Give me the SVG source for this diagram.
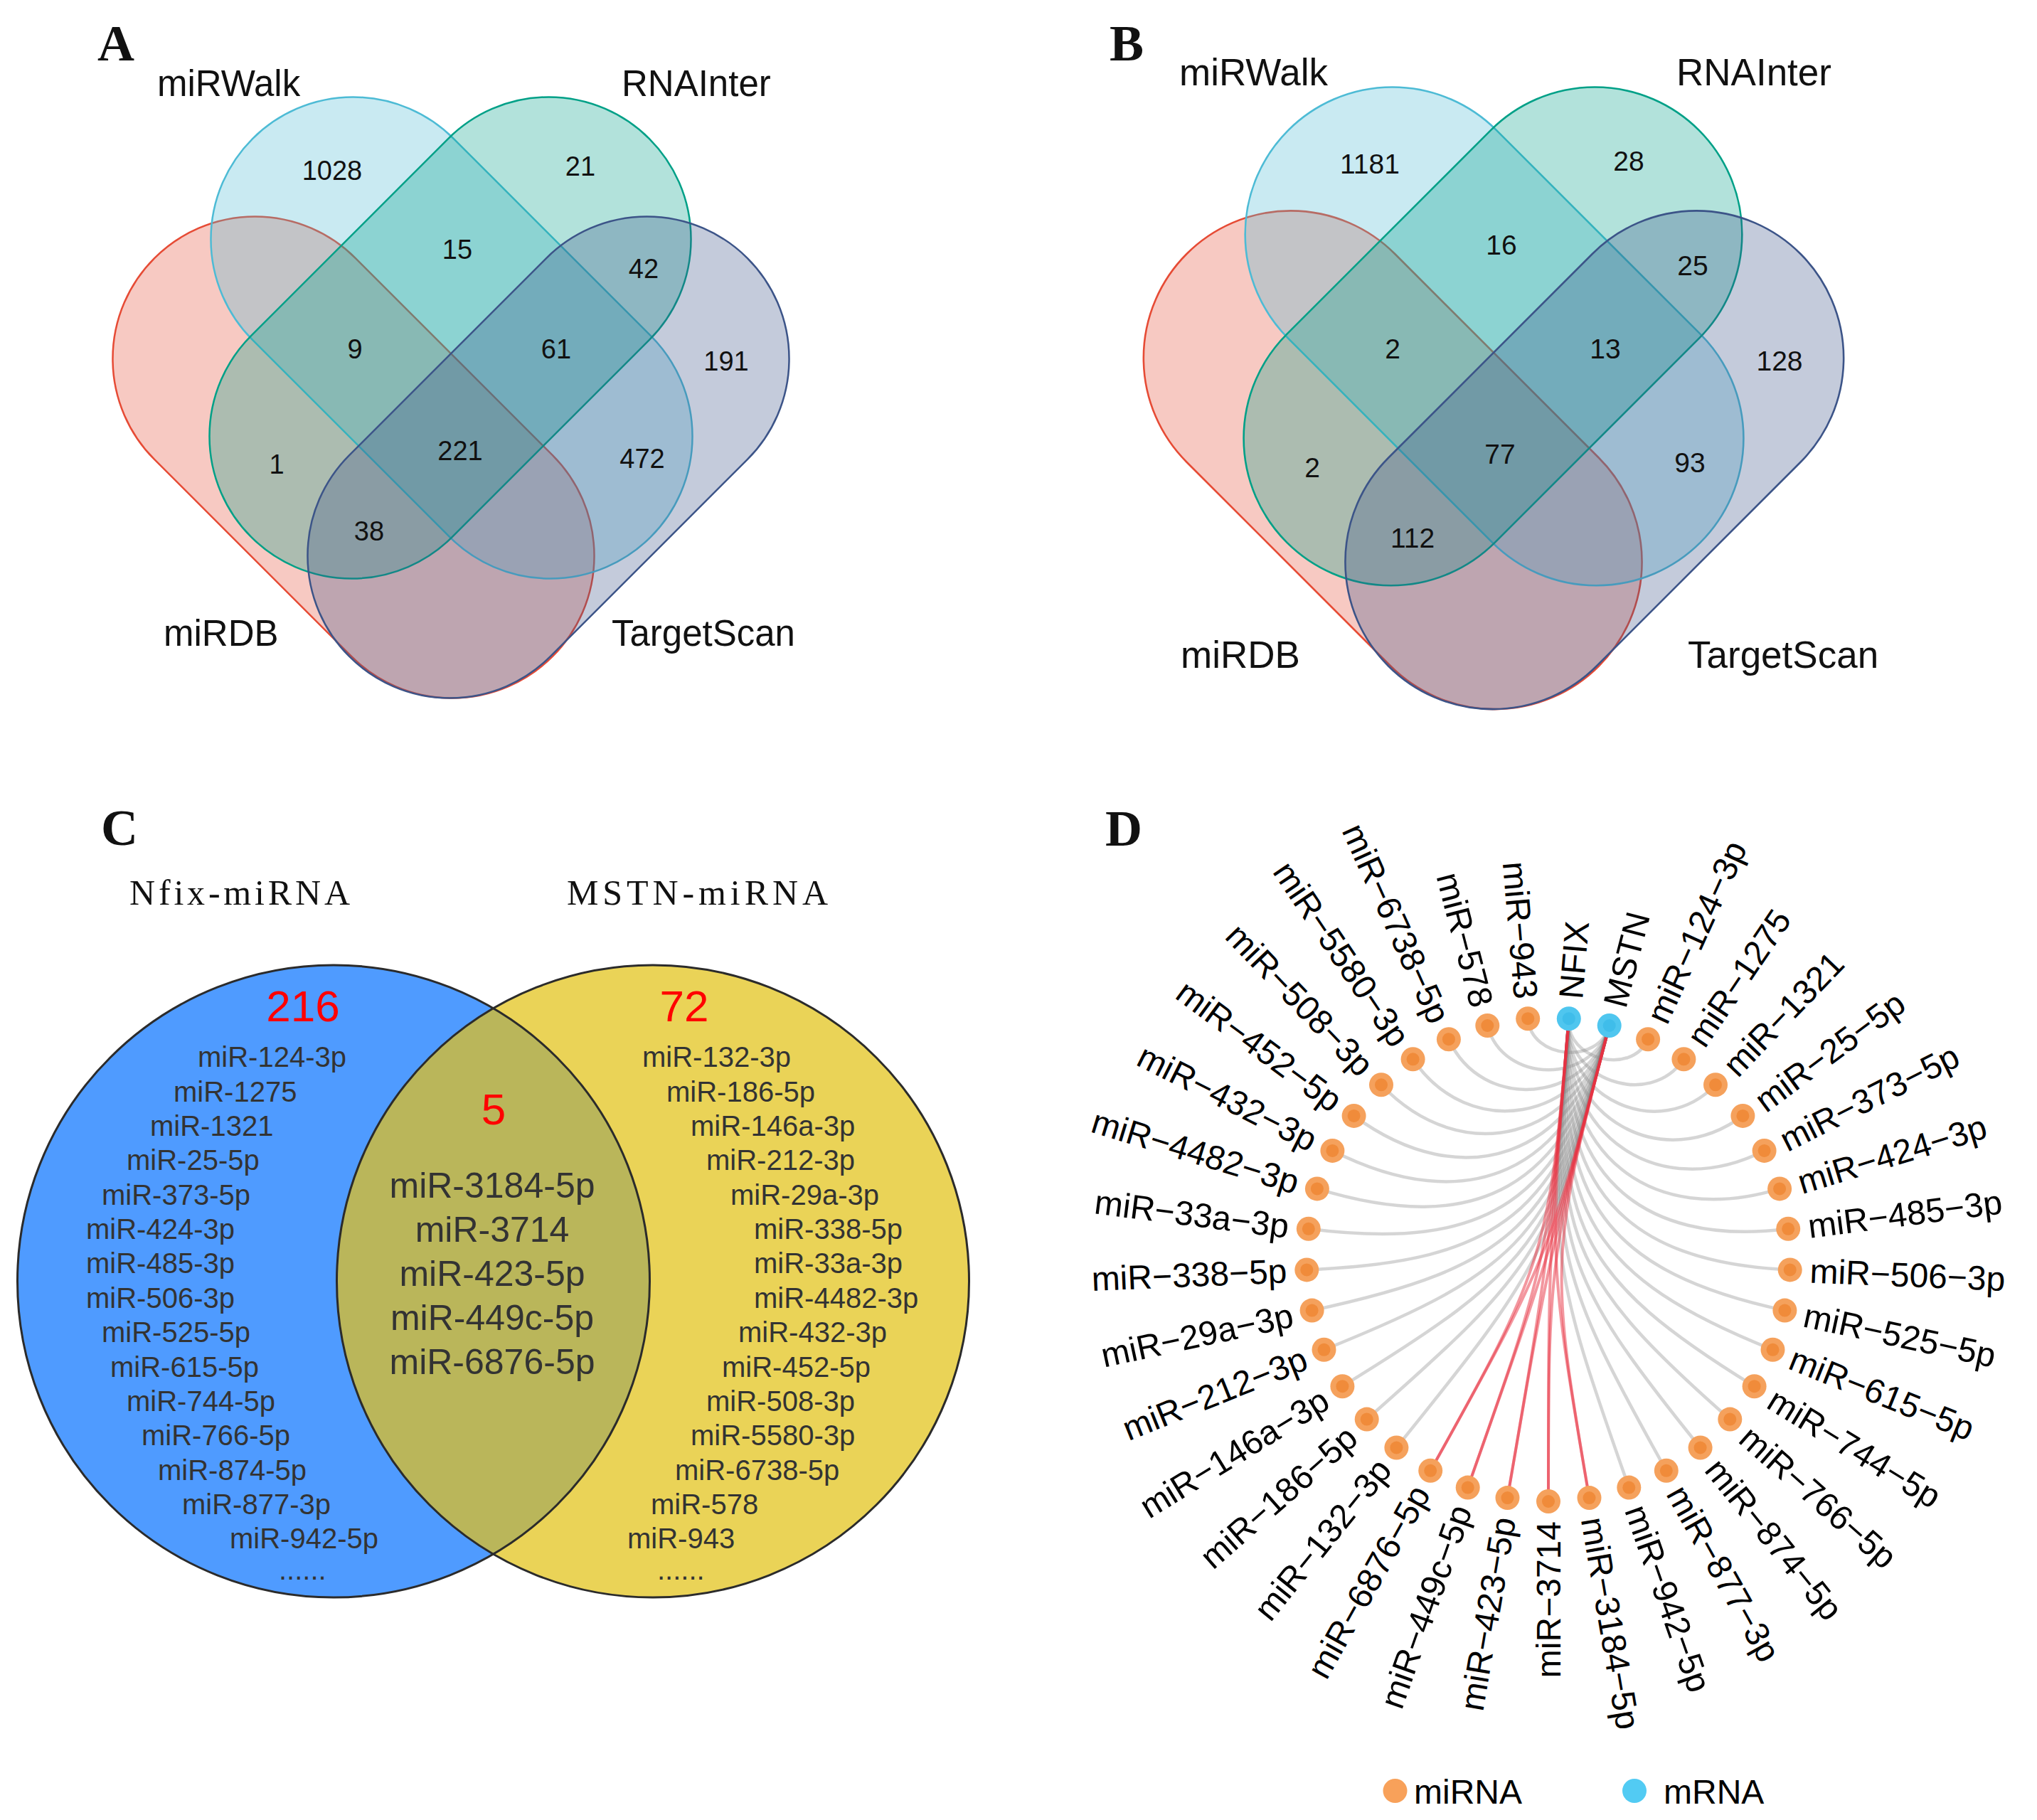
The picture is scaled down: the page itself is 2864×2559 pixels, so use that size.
<svg xmlns="http://www.w3.org/2000/svg" width="2864" height="2559" viewBox="0 0 2864 2559">
<style>
text{font-family:"Liberation Sans",Arial,sans-serif;}
.pl{font-family:"Liberation Serif","Times New Roman",serif;font-weight:bold;font-size:72px;fill:#111;}
.sa{font-size:51px;fill:#111;}
.sb{font-size:53px;fill:#111;}
.na{font-size:38px;text-anchor:middle;fill:#111;}
.nb{font-size:39px;text-anchor:middle;fill:#111;}
.ttl{font-family:"Liberation Serif","Times New Roman",serif;font-size:50px;fill:#111;}
.cl{font-size:40px;fill:#333;}
.cc{font-size:50px;fill:#333;text-anchor:middle;}
.red{font-size:62px;fill:#FF0000;text-anchor:middle;}
.dl{font-size:48px;fill:#000;}
.sR{fill:#E64B35;fill-opacity:0.3;stroke:#E64B35;stroke-width:2.5;}
.sW{fill:#4DBBD5;fill-opacity:0.3;stroke:#4DBBD5;stroke-width:2.5;}
.sI{fill:#00A087;fill-opacity:0.3;stroke:#00A087;stroke-width:2.5;}
.sT{fill:#3C5488;fill-opacity:0.3;stroke:#3C5488;stroke-width:2.5;}
.ge{fill:none;stroke:#888;stroke-opacity:0.35;stroke-width:4.5;}
.re{fill:none;stroke:#E8303F;stroke-opacity:0.5;stroke-width:4;}
.mo{fill:#F5A15C;}
.mc{fill:#F08B3A;}
.bo{fill:#4FC6EF;}
.bc{fill:#3FBDEA;}
</style>
<defs>
<path id="stad" d="M-195.9,-200H195.9A200,200 0 0 1 195.9,200H-195.9A200,200 0 0 1 -195.9,-200Z"/>
</defs>
<rect width="2864" height="2559" fill="#fff"/>

<!-- Panel A -->
<g id="panelA">
<text class="pl" x="137" y="85">A</text>
<g id="A-miRDB"><use href="#stad" class="sR" transform="translate(497,643) rotate(45)"/></g>
<g id="A-miRWalk"><use href="#stad" class="sW" transform="translate(635,475) rotate(45)"/></g>
<g id="A-RNAInter"><use href="#stad" class="sI" transform="translate(633,475) rotate(-45)"/></g>
<g id="A-TargetScan"><use href="#stad" class="sT" transform="translate(771,643) rotate(-45)"/></g>
<text class="sa" x="221" y="135">miRWalk</text>
<text class="sa" x="874" y="135">RNAInter</text>
<text class="sa" x="230" y="908">miRDB</text>
<text class="sa" x="860" y="908">TargetScan</text>
<text class="na" x="467" y="252.5">1028</text>
<text class="na" x="816" y="246.5">21</text>
<text class="na" x="643" y="363.5">15</text>
<text class="na" x="905" y="390.5">42</text>
<text class="na" x="499" y="503.5">9</text>
<text class="na" x="782" y="503.5">61</text>
<text class="na" x="1021" y="520.5">191</text>
<text class="na" x="389" y="665.5">1</text>
<text class="na" x="647" y="646.5">221</text>
<text class="na" x="903" y="657.5">472</text>
<text class="na" x="519" y="759.5">38</text>
</g>

<!-- Panel B -->
<g id="panelB">
<text class="pl" x="1560" y="85">B</text>
<g transform="translate(2100,122) scale(1.035) translate(-634,-136)">
<g id="B-miRDB"><use href="#stad" class="sR" transform="translate(497,643) rotate(45)"/></g>
<g id="B-miRWalk"><use href="#stad" class="sW" transform="translate(635,475) rotate(45)"/></g>
<g id="B-RNAInter"><use href="#stad" class="sI" transform="translate(633,475) rotate(-45)"/></g>
<g id="B-TargetScan"><use href="#stad" class="sT" transform="translate(771,643) rotate(-45)"/></g>
</g>
<text class="sb" x="1658" y="120">miRWalk</text>
<text class="sb" x="2357" y="120">RNAInter</text>
<text class="sb" x="1660" y="939">miRDB</text>
<text class="sb" x="2373" y="939">TargetScan</text>
<text class="nb" x="1926" y="244">1181</text>
<text class="nb" x="2290" y="240">28</text>
<text class="nb" x="2111" y="358">16</text>
<text class="nb" x="2380" y="387">25</text>
<text class="nb" x="1958" y="504">2</text>
<text class="nb" x="2257" y="504">13</text>
<text class="nb" x="2502" y="521">128</text>
<text class="nb" x="1845" y="671">2</text>
<text class="nb" x="2109" y="652">77</text>
<text class="nb" x="2376" y="664">93</text>
<text class="nb" x="1986" y="770">112</text>
</g>

<!-- Panel C -->
<g id="panelC">
<text class="pl" x="142" y="1188">C</text>
<text class="ttl" x="182" y="1272" textLength="310" lengthAdjust="spacing">Nfix-miRNA</text>
<text class="ttl" x="797" y="1272" textLength="367" lengthAdjust="spacing">MSTN-miRNA</text>
<g id="C-Nfix"><circle cx="469" cy="1801.5" r="444.5" fill="#4F9BFF"/></g>
<g id="C-MSTN"><circle cx="918" cy="1801.5" r="444.5" fill="#EAD357"/></g>
<g id="C-overlap"><path d="M693.5,1417.9A444.5,444.5 0 0 1 693.5,2185.1A444.5,444.5 0 0 1 693.5,1417.9Z" fill="#BAB65A"/></g>
<circle cx="469" cy="1801.5" r="444.5" fill="none" stroke="#2B2B2B" stroke-width="3"/>
<circle cx="918" cy="1801.5" r="444.5" fill="none" stroke="#2B2B2B" stroke-width="3"/>
<text class="red" x="426" y="1436">216</text>
<text class="red" x="962" y="1436">72</text>
<text class="red" x="694" y="1581">5</text>
<text class="cc" x="692" y="1684">miR-3184-5p</text>
<text class="cc" x="692" y="1746">miR-3714</text>
<text class="cc" x="692" y="1808">miR-423-5p</text>
<text class="cc" x="692" y="1870">miR-449c-5p</text>
<text class="cc" x="692" y="1932">miR-6876-5p</text>
<text class="cl" x="278" y="1500">miR-124-3p</text>
<text class="cl" x="244" y="1549">miR-1275</text>
<text class="cl" x="211" y="1597">miR-1321</text>
<text class="cl" x="178" y="1645">miR-25-5p</text>
<text class="cl" x="143" y="1694">miR-373-5p</text>
<text class="cl" x="121" y="1742">miR-424-3p</text>
<text class="cl" x="121" y="1790">miR-485-3p</text>
<text class="cl" x="121" y="1839">miR-506-3p</text>
<text class="cl" x="143" y="1887">miR-525-5p</text>
<text class="cl" x="155" y="1936">miR-615-5p</text>
<text class="cl" x="178" y="1984">miR-744-5p</text>
<text class="cl" x="199" y="2032">miR-766-5p</text>
<text class="cl" x="222" y="2081">miR-874-5p</text>
<text class="cl" x="256" y="2129">miR-877-3p</text>
<text class="cl" x="323" y="2177">miR-942-5p</text>
<text class="cl" x="392" y="2221">......</text>
<text class="cl" x="903" y="1500">miR-132-3p</text>
<text class="cl" x="937" y="1549">miR-186-5p</text>
<text class="cl" x="971" y="1597">miR-146a-3p</text>
<text class="cl" x="993" y="1645">miR-212-3p</text>
<text class="cl" x="1027" y="1694">miR-29a-3p</text>
<text class="cl" x="1060" y="1742">miR-338-5p</text>
<text class="cl" x="1060" y="1790">miR-33a-3p</text>
<text class="cl" x="1060" y="1839">miR-4482-3p</text>
<text class="cl" x="1038" y="1887">miR-432-3p</text>
<text class="cl" x="1015" y="1936">miR-452-5p</text>
<text class="cl" x="993" y="1984">miR-508-3p</text>
<text class="cl" x="971" y="2032">miR-5580-3p</text>
<text class="cl" x="949" y="2081">miR-6738-5p</text>
<text class="cl" x="915" y="2129">miR-578</text>
<text class="cl" x="882" y="2177">miR-943</text>
<text class="cl" x="924" y="2221">......</text>
</g>

<!-- Panel D -->
<g id="panelD">
<text class="pl" x="1554" y="1189">D</text>
<g id="edges">
<path class="ge" d="M2262.7,1442C2179,1763.7 2172.2,1776.9 1963.4,2035.5"/>
<path class="ge" d="M2262.7,1442C2180.8,1756.6 2165.8,1780.8 1921.7,1995.6"/>
<path class="ge" d="M2262.7,1442C2183.2,1747.3 2156.1,1783.8 1887.4,1949.2"/>
<path class="ge" d="M2262.7,1442C2186.2,1735.8 2143.2,1784.6 1861.5,1897.8"/>
<path class="ge" d="M2262.7,1442C2189.8,1722.2 2127.6,1781.6 1844.6,1842.6"/>
<path class="ge" d="M2262.7,1442C2193.8,1706.6 2110.5,1773.8 1837.3,1785.4"/>
<path class="ge" d="M2262.7,1442C2198.4,1689 2092.9,1760.2 1839.8,1727.8"/>
<path class="ge" d="M2262.7,1442C2203.4,1669.7 2076.9,1740.3 1851.9,1671.4"/>
<path class="ge" d="M2262.7,1442C2208.9,1648.7 2064.1,1714.1 1873.4,1617.9"/>
<path class="ge" d="M2262.7,1442C2214.7,1626.3 2056.7,1682.1 1903.6,1568.9"/>
<path class="ge" d="M2262.7,1442C2221,1602.4 2056.5,1645.1 1942,1525.3"/>
<path class="ge" d="M2262.7,1442C2227.4,1577.6 2065.1,1605.4 1986.6,1489.3"/>
<path class="ge" d="M2262.7,1442C2234.2,1551.7 2083.6,1564.4 2036.9,1461.2"/>
<path class="ge" d="M2262.7,1442C2241.1,1524.9 2112.9,1524.9 2091.3,1442"/>
<path class="ge" d="M2262.7,1442C2248.2,1497.6 2153.1,1489.5 2148.2,1432.2"/>
<path class="ge" d="M2205.8,1432.2C2200.9,1489.5 2293.4,1513.6 2317.1,1461.2"/>
<path class="ge" d="M2205.8,1432.2C2198.5,1517.6 2319.4,1560.3 2367.4,1489.3"/>
<path class="ge" d="M2205.8,1432.2C2196.2,1544.9 2333.8,1607 2412,1525.3"/>
<path class="ge" d="M2205.8,1432.2C2193.9,1571.8 2337.7,1652.2 2450.4,1568.9"/>
<path class="ge" d="M2205.8,1432.2C2191.8,1597.4 2332.6,1692.5 2480.6,1617.9"/>
<path class="ge" d="M2205.8,1432.2C2189.7,1621.9 2320,1727.2 2502.1,1671.4"/>
<path class="ge" d="M2205.8,1432.2C2187.7,1645 2302.3,1754.9 2514.2,1727.8"/>
<path class="ge" d="M2205.8,1432.2C2185.9,1666.7 2281.6,1775.4 2516.7,1785.4"/>
<path class="ge" d="M2205.8,1432.2C2184.2,1686.6 2259.8,1788.8 2509.4,1842.6"/>
<path class="ge" d="M2205.8,1432.2C2182.6,1704.6 2238.8,1795.9 2492.5,1897.8"/>
<path class="ge" d="M2205.8,1432.2C2181.3,1720.7 2220,1797.5 2466.6,1949.2"/>
<path class="ge" d="M2205.8,1432.2C2180.1,1734.7 2204.4,1795 2432.3,1995.6"/>
<path class="ge" d="M2205.8,1432.2C2179.1,1746.6 2192.4,1790 2390.6,2035.5"/>
<path class="ge" d="M2205.8,1432.2C2178.3,1756.1 2184.3,1784 2342.8,2067.8"/>
<path class="ge" d="M2205.8,1432.2C2177.6,1763.4 2179.6,1778.2 2290.3,2091.6"/>
<path class="re" d="M2205.8,1432.2C2177,1770.7 2177,1771.3 2177,2111"/>
<path class="re" d="M2205.8,1432.2C2177,1770.7 2176.9,1771.3 2119.5,2106.1"/>
<path class="re" d="M2205.8,1432.2C2177.2,1768.3 2176.1,1773.6 2063.7,2091.6"/>
<path class="re" d="M2205.8,1432.2C2177.6,1763.4 2173.3,1777.6 2011.2,2067.8"/>
<path class="re" d="M2205.8,1432.2C2177.2,1768.3 2177.5,1773.7 2234.5,2106.1"/>
<path class="re" d="M2262.7,1442C2177.7,1768.4 2177,1773.7 2177,2111"/>
<path class="re" d="M2262.7,1442C2177.1,1770.8 2176.9,1771.3 2119.5,2106.1"/>
<path class="re" d="M2262.7,1442C2177.1,1770.8 2176.9,1771.3 2063.7,2091.6"/>
<path class="re" d="M2262.7,1442C2177.7,1768.4 2175.7,1773.3 2011.2,2067.8"/>
<path class="re" d="M2262.7,1442C2179,1763.7 2178.3,1778.5 2234.5,2106.1"/>
</g>
<g id="n-miR-3714"><circle class="mo" cx="2177" cy="2111" r="17"/><circle class="mc" cx="2177" cy="2111" r="9"/><text class="dl" text-anchor="end" dy=".35em" transform="translate(2177,2139) rotate(-90)">miR−3714</text></g>
<g id="n-miR-423-5p"><circle class="mo" cx="2119.5" cy="2106.1" r="17"/><circle class="mc" cx="2119.5" cy="2106.1" r="9"/><text class="dl" text-anchor="end" dy=".35em" transform="translate(2114.8,2133.7) rotate(-80.27)">miR−423−5p</text></g>
<g id="n-miR-449c-5p"><circle class="mo" cx="2063.7" cy="2091.6" r="17"/><circle class="mc" cx="2063.7" cy="2091.6" r="9"/><text class="dl" text-anchor="end" dy=".35em" transform="translate(2054.4,2118) rotate(-70.54)">miR−449c−5p</text></g>
<g id="n-miR-6876-5p"><circle class="mo" cx="2011.2" cy="2067.8" r="17"/><circle class="mc" cx="2011.2" cy="2067.8" r="9"/><text class="dl" text-anchor="end" dy=".35em" transform="translate(1997.5,2092.3) rotate(-60.81)">miR−6876−5p</text></g>
<g id="n-miR-132-3p"><circle class="mo" cx="1963.4" cy="2035.5" r="17"/><circle class="mc" cx="1963.4" cy="2035.5" r="9"/><text class="dl" text-anchor="end" dy=".35em" transform="translate(1945.8,2057.3) rotate(-51.08)">miR−132−3p</text></g>
<g id="n-miR-186-5p"><circle class="mo" cx="1921.7" cy="1995.6" r="17"/><circle class="mc" cx="1921.7" cy="1995.6" r="9"/><text class="dl" text-anchor="end" dy=".35em" transform="translate(1900.7,2014.1) rotate(-41.35)">miR−186−5p</text></g>
<g id="n-miR-146a-3p"><circle class="mo" cx="1887.4" cy="1949.2" r="17"/><circle class="mc" cx="1887.4" cy="1949.2" r="9"/><text class="dl" text-anchor="end" dy=".35em" transform="translate(1863.6,1963.9) rotate(-31.62)">miR−146a−3p</text></g>
<g id="n-miR-212-3p"><circle class="mo" cx="1861.5" cy="1897.8" r="17"/><circle class="mc" cx="1861.5" cy="1897.8" r="9"/><text class="dl" text-anchor="end" dy=".35em" transform="translate(1835.5,1908.2) rotate(-21.89)">miR−212−3p</text></g>
<g id="n-miR-29a-3p"><circle class="mo" cx="1844.6" cy="1842.6" r="17"/><circle class="mc" cx="1844.6" cy="1842.6" r="9"/><text class="dl" text-anchor="end" dy=".35em" transform="translate(1817.3,1848.5) rotate(-12.16)">miR−29a−3p</text></g>
<g id="n-miR-338-5p"><circle class="mo" cx="1837.3" cy="1785.4" r="17"/><circle class="mc" cx="1837.3" cy="1785.4" r="9"/><text class="dl" text-anchor="end" dy=".35em" transform="translate(1809.3,1786.6) rotate(-2.43)">miR−338−5p</text></g>
<g id="n-miR-33a-3p"><circle class="mo" cx="1839.8" cy="1727.8" r="17"/><circle class="mc" cx="1839.8" cy="1727.8" r="9"/><text class="dl" text-anchor="end" dy=".35em" transform="translate(1812,1724.3) rotate(7.3)">miR−33a−3p</text></g>
<g id="n-miR-4482-3p"><circle class="mo" cx="1851.9" cy="1671.4" r="17"/><circle class="mc" cx="1851.9" cy="1671.4" r="9"/><text class="dl" text-anchor="end" dy=".35em" transform="translate(1825.1,1663.2) rotate(17.03)">miR−4482−3p</text></g>
<g id="n-miR-432-3p"><circle class="mo" cx="1873.4" cy="1617.9" r="17"/><circle class="mc" cx="1873.4" cy="1617.9" r="9"/><text class="dl" text-anchor="end" dy=".35em" transform="translate(1848.4,1605.3) rotate(26.76)">miR−432−3p</text></g>
<g id="n-miR-452-5p"><circle class="mo" cx="1903.6" cy="1568.9" r="17"/><circle class="mc" cx="1903.6" cy="1568.9" r="9"/><text class="dl" text-anchor="end" dy=".35em" transform="translate(1881.1,1552.2) rotate(36.49)">miR−452−5p</text></g>
<g id="n-miR-508-3p"><circle class="mo" cx="1942" cy="1525.3" r="17"/><circle class="mc" cx="1942" cy="1525.3" r="9"/><text class="dl" text-anchor="end" dy=".35em" transform="translate(1922.7,1505) rotate(46.22)">miR−508−3p</text></g>
<g id="n-miR-5580-3p"><circle class="mo" cx="1986.6" cy="1489.3" r="17"/><circle class="mc" cx="1986.6" cy="1489.3" r="9"/><text class="dl" text-anchor="end" dy=".35em" transform="translate(1970.9,1466.1) rotate(55.95)">miR−5580−3p</text></g>
<g id="n-miR-6738-5p"><circle class="mo" cx="2036.9" cy="1461.2" r="17"/><circle class="mc" cx="2036.9" cy="1461.2" r="9"/><text class="dl" text-anchor="end" dy=".35em" transform="translate(2025.4,1435.7) rotate(65.68)">miR−6738−5p</text></g>
<g id="n-miR-578"><circle class="mo" cx="2091.3" cy="1442" r="17"/><circle class="mc" cx="2091.3" cy="1442" r="9"/><text class="dl" text-anchor="end" dy=".35em" transform="translate(2084.3,1414.9) rotate(75.41)">miR−578</text></g>
<g id="n-miR-943"><circle class="mo" cx="2148.2" cy="1432.2" r="17"/><circle class="mc" cx="2148.2" cy="1432.2" r="9"/><text class="dl" text-anchor="end" dy=".35em" transform="translate(2145.8,1404.3) rotate(85.14)">miR−943</text></g>
<g id="n-NFIX"><circle class="bo" cx="2205.8" cy="1432.2" r="17"/><circle class="bc" cx="2205.8" cy="1432.2" r="9"/><text class="dl" dy=".35em" transform="translate(2208.2,1404.3) rotate(-85.14)">NFIX</text></g>
<g id="n-MSTN"><circle class="bo" cx="2262.7" cy="1442" r="17"/><circle class="bc" cx="2262.7" cy="1442" r="9"/><text class="dl" dy=".35em" transform="translate(2269.7,1414.9) rotate(-75.41)">MSTN</text></g>
<g id="n-miR-124-3p"><circle class="mo" cx="2317.1" cy="1461.2" r="17"/><circle class="mc" cx="2317.1" cy="1461.2" r="9"/><text class="dl" dy=".35em" transform="translate(2328.6,1435.7) rotate(-65.68)">miR−124−3p</text></g>
<g id="n-miR-1275"><circle class="mo" cx="2367.4" cy="1489.3" r="17"/><circle class="mc" cx="2367.4" cy="1489.3" r="9"/><text class="dl" dy=".35em" transform="translate(2383.1,1466.1) rotate(-55.95)">miR−1275</text></g>
<g id="n-miR-1321"><circle class="mo" cx="2412" cy="1525.3" r="17"/><circle class="mc" cx="2412" cy="1525.3" r="9"/><text class="dl" dy=".35em" transform="translate(2431.3,1505) rotate(-46.22)">miR−1321</text></g>
<g id="n-miR-25-5p"><circle class="mo" cx="2450.4" cy="1568.9" r="17"/><circle class="mc" cx="2450.4" cy="1568.9" r="9"/><text class="dl" dy=".35em" transform="translate(2472.9,1552.2) rotate(-36.49)">miR−25−5p</text></g>
<g id="n-miR-373-5p"><circle class="mo" cx="2480.6" cy="1617.9" r="17"/><circle class="mc" cx="2480.6" cy="1617.9" r="9"/><text class="dl" dy=".35em" transform="translate(2505.6,1605.3) rotate(-26.76)">miR−373−5p</text></g>
<g id="n-miR-424-3p"><circle class="mo" cx="2502.1" cy="1671.4" r="17"/><circle class="mc" cx="2502.1" cy="1671.4" r="9"/><text class="dl" dy=".35em" transform="translate(2528.9,1663.2) rotate(-17.03)">miR−424−3p</text></g>
<g id="n-miR-485-3p"><circle class="mo" cx="2514.2" cy="1727.8" r="17"/><circle class="mc" cx="2514.2" cy="1727.8" r="9"/><text class="dl" dy=".35em" transform="translate(2542,1724.3) rotate(-7.3)">miR−485−3p</text></g>
<g id="n-miR-506-3p"><circle class="mo" cx="2516.7" cy="1785.4" r="17"/><circle class="mc" cx="2516.7" cy="1785.4" r="9"/><text class="dl" dy=".35em" transform="translate(2544.7,1786.6) rotate(2.43)">miR−506−3p</text></g>
<g id="n-miR-525-5p"><circle class="mo" cx="2509.4" cy="1842.6" r="17"/><circle class="mc" cx="2509.4" cy="1842.6" r="9"/><text class="dl" dy=".35em" transform="translate(2536.7,1848.5) rotate(12.16)">miR−525−5p</text></g>
<g id="n-miR-615-5p"><circle class="mo" cx="2492.5" cy="1897.8" r="17"/><circle class="mc" cx="2492.5" cy="1897.8" r="9"/><text class="dl" dy=".35em" transform="translate(2518.5,1908.2) rotate(21.89)">miR−615−5p</text></g>
<g id="n-miR-744-5p"><circle class="mo" cx="2466.6" cy="1949.2" r="17"/><circle class="mc" cx="2466.6" cy="1949.2" r="9"/><text class="dl" dy=".35em" transform="translate(2490.4,1963.9) rotate(31.62)">miR−744−5p</text></g>
<g id="n-miR-766-5p"><circle class="mo" cx="2432.3" cy="1995.6" r="17"/><circle class="mc" cx="2432.3" cy="1995.6" r="9"/><text class="dl" dy=".35em" transform="translate(2453.3,2014.1) rotate(41.35)">miR−766−5p</text></g>
<g id="n-miR-874-5p"><circle class="mo" cx="2390.6" cy="2035.5" r="17"/><circle class="mc" cx="2390.6" cy="2035.5" r="9"/><text class="dl" dy=".35em" transform="translate(2408.2,2057.3) rotate(51.08)">miR−874−5p</text></g>
<g id="n-miR-877-3p"><circle class="mo" cx="2342.8" cy="2067.8" r="17"/><circle class="mc" cx="2342.8" cy="2067.8" r="9"/><text class="dl" dy=".35em" transform="translate(2356.5,2092.3) rotate(60.81)">miR−877−3p</text></g>
<g id="n-miR-942-5p"><circle class="mo" cx="2290.3" cy="2091.6" r="17"/><circle class="mc" cx="2290.3" cy="2091.6" r="9"/><text class="dl" dy=".35em" transform="translate(2299.6,2118) rotate(70.54)">miR−942−5p</text></g>
<g id="n-miR-3184-5p"><circle class="mo" cx="2234.5" cy="2106.1" r="17"/><circle class="mc" cx="2234.5" cy="2106.1" r="9"/><text class="dl" dy=".35em" transform="translate(2239.2,2133.7) rotate(80.27)">miR−3184−5p</text></g>
<g id="legend">
<circle cx="1961.5" cy="2518" r="17" fill="#F8A15A"/>
<text class="dl" x="1988" y="2536">miRNA</text>
<circle cx="2298" cy="2518" r="17" fill="#52CBF3"/>
<text class="dl" x="2339" y="2536">mRNA</text>
</g>
</g>
</svg>
